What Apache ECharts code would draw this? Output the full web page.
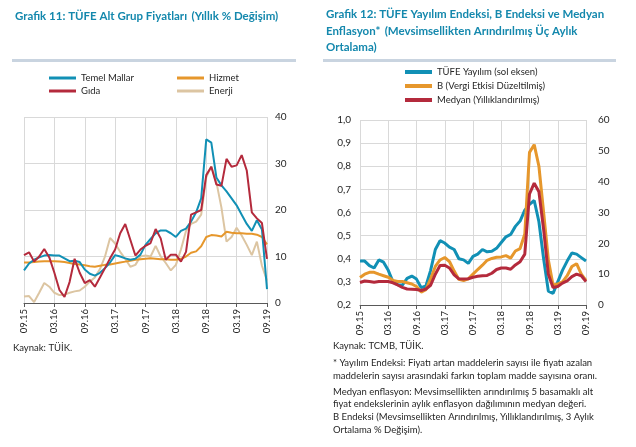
<!DOCTYPE html>
<html>
<head>
<meta charset="utf-8">
<script src="https://cdn.jsdelivr.net/npm/echarts@6/dist/echarts.min.js"></script>
<style>
  html, body { margin: 0; padding: 0; background: #fff; }
  #chart { width: 636px; height: 447px; }
</style>
</head>
<body>
<div id="chart"></div>
<script>
// aylar (09.15 - 09.19)
const months = [
  '09.15', '10.15', '11.15', '12.15',
  '01.16', '02.16', '03.16', '04.16', '05.16', '06.16', '07.16', '08.16', '09.16', '10.16', '11.16', '12.16',
  '01.17', '02.17', '03.17', '04.17', '05.17', '06.17', '07.17', '08.17', '09.17', '10.17', '11.17', '12.17',
  '01.18', '02.18', '03.18', '04.18', '05.18', '06.18', '07.18', '08.18', '09.18', '10.18', '11.18', '12.18',
  '01.19', '02.19', '03.19', '04.19', '05.19', '06.19', '07.19', '08.19', '09.19'
]

// Grafik 11 - yıllık % değişim
const temelMallar = [7.0, 8.5, 9.3, 9.8, 10.2, 10.3, 10.2, 10.2, 9.6, 9.0, 9.1, 8.8, 7.2, 6.3, 5.9, 6.5, 7.5, 8.7, 10.3, 10.0,
  9.6, 9.3, 9.5, 10.4, 12.5, 13.8, 15.0, 15.6, 15.6, 15.0, 14.2, 15.5, 16.0, 17.5, 19.5, 22.5, 35.2, 34.5, 27.0, 25.3,
  24.0, 22.5, 21.0, 19.0, 17.0, 15.5, 17.8, 15.8, 3.0]
const hizmet = [8.7, 8.7, 8.8, 8.9, 9.0, 9.0, 9.0, 8.9, 8.8, 8.6, 8.4, 8.3, 8.1, 7.9, 7.8, 8.0, 8.2, 8.3, 8.5, 8.7,
  8.9, 9.1, 9.3, 9.4, 9.5, 9.6, 9.5, 9.4, 9.4, 9.3, 9.3, 9.5, 10.0, 10.8, 11.1, 12.2, 14.2, 14.6, 14.5, 14.3,
  15.3, 15.1, 15.0, 15.0, 14.9, 14.9, 14.7, 14.2, 12.6]
const gida = [10.3, 10.9, 8.9, 10.0, 11.6, 9.8, 6.5, 2.8, 1.3, 4.5, 9.5, 6.5, 4.3, 4.9, 3.5, 5.5, 7.5, 9.6, 11.5, 15.0,
  17.0, 13.6, 10.2, 11.5, 12.3, 12.9, 15.9, 13.9, 9.3, 10.4, 10.4, 8.9, 11.0, 19.0, 19.5, 20.0, 27.5, 29.3, 25.5, 25.2,
  31.0, 29.3, 29.6, 31.8, 28.5, 19.5, 18.2, 17.2, 9.5]
const enerji = [1.4, 1.5, 0.2, 2.2, 4.3, 3.5, 2.2, 1.7, 1.8, 2.2, 2.5, 2.7, 3.5, 4.6, 5.5, 7.3, 10.0, 14.0, 12.8, 11.0,
  9.5, 7.8, 8.2, 10.0, 10.2, 10.0, 12.3, 10.0, 8.6, 7.0, 8.2, 11.5, 15.5, 17.0, 17.5, 19.0, 27.0, 29.4, 26.0, 20.5,
  13.2, 14.2, 16.2, 14.5, 12.5, 10.3, 13.2, 8.0, 4.8]

// Grafik 12 - yayılım (sol eksen), B ve medyan (sağ eksen)
const yayilim = [0.39, 0.39, 0.37, 0.36, 0.395, 0.385, 0.35, 0.30, 0.288, 0.286, 0.315, 0.325, 0.312, 0.275, 0.282, 0.35,
  0.44, 0.478, 0.468, 0.45, 0.44, 0.40, 0.395, 0.38, 0.41, 0.42, 0.44, 0.43, 0.432, 0.445, 0.47, 0.495, 0.505, 0.54,
  0.563, 0.61, 0.635, 0.652, 0.56, 0.40, 0.26, 0.25, 0.30, 0.35, 0.39, 0.425, 0.42, 0.405, 0.39]
const bEndeksi = [8.9, 10.0, 10.6, 10.6, 10.0, 9.5, 9.0, 8.0, 7.6, 7.6, 7.2, 6.8, 6.0, 4.2, 5.0, 8.5, 12.5, 14.6, 15.4, 14.1,
  11.0, 8.3, 7.9, 8.5, 10.0, 11.5, 12.9, 14.5, 15.1, 15.5, 15.6, 16.0, 15.2, 17.5, 18.3, 23.0, 49.5, 52.0, 45.0, 30.0,
  14.7, 6.5, 6.8, 7.5, 9.5, 12.5, 13.4, 10.0, 8.0]
const medyan = [7.3, 7.8, 7.6, 7.4, 7.6, 7.6, 7.6, 7.2, 6.5, 5.7, 5.2, 5.1, 5.0, 4.7, 5.2, 6.4, 10.0, 12.8, 12.9, 12.0,
  9.8, 8.5, 8.4, 8.5, 9.0, 9.3, 9.5, 9.6, 10.3, 11.5, 12.0, 12.0, 11.6, 13.0, 14.0, 16.5, 36.0, 39.5, 36.7, 24.5,
  10.0, 5.7, 6.0, 7.1, 7.8, 9.2, 10.0, 9.5, 7.6]

const footnotes = [
  'Kaynak: TCMB, TÜİK.',
  '* Yayılım Endeksi: Fiyatı artan maddelerin sayısı ile fiyatı azalan',
  'maddelerin sayısı arasındaki farkın toplam madde sayısına oranı.',
  'Medyan enflasyon: Mevsimsellikten arındırılmış 5 basamaklı alt',
  'fiyat endekslerinin aylık enflasyon dağılımının medyan değeri.',
  'B Endeksi (Mevsimsellikten Arındırılmış, Yıllıklandırılmış, 3 Aylık',
  'Ortalama % Değişim).'
]
const footY = [346, 363, 376, 392, 404, 417, 430]

const FONT = 'Lato'
const TEAL = '#1488ad'
const C_BLUE = '#1190b5'
const C_ORANGE = '#e6972c'
const C_RED = '#b42a3c'
const C_TAN = '#dcc5a2'
const GRID_C = '#d9d9d9'
const TXT = '#262626'

const chart = echarts.init(document.getElementById('chart'))

const xAxisBase = (gridIndex) => ({
  type: 'category',
  gridIndex,
  data: months,
  boundaryGap: false,
  axisLine: { lineStyle: { color: '#595959', width: 1 } },
  axisTick: { show: true, interval: 5, length: 4, lineStyle: { color: '#595959' } },
  axisLabel: { interval: 5, rotate: 90, fontSize: 9.5, color: TXT, fontFamily: FONT, margin: 6 },
  splitLine: { show: true, interval: 5, lineStyle: { color: GRID_C, width: 1 } },
})

const lineSeries = (name, data, color, width, xi, yi) => ({
  name,
  type: 'line',
  data,
  xAxisIndex: xi,
  yAxisIndex: yi,
  symbol: 'none',
  lineStyle: { color, width },
  itemStyle: { color },
})

const legendBase = (names, left, top, extra) => Object.assign({
  data: names,
  left,
  top,
  padding: 0,
  icon: 'rect',
  itemWidth: 27,
  itemHeight: 3,
  textStyle: { fontSize: 9.5, color: TXT, fontFamily: FONT },
  selectedMode: false,
}, extra || {})

const option = {
  animation: false,
  textStyle: { fontFamily: FONT },
  title: [
    {
      left: 15,
      top: 7,
      padding: 0,
      text: '{b|Grafik 11: TÜFE Alt Grup Fiyatları} {n|(Yıllık % Değişim)}',
      textStyle: {
        rich: {
          b: { fontFamily: FONT, fontSize: 11.5, fontWeight: 'bold', color: TEAL, lineHeight: 15 },
          n: { fontFamily: FONT, fontSize: 11.5, color: TEAL, lineHeight: 15 },
        },
      },
    },
    {
      left: 326,
      top: 7,
      padding: 0,
      text: '{b|Grafik 12: TÜFE Yayılım Endeksi, B Endeksi ve Medyan}\n{b|Enflasyon*} {n|(Mevsimsellikten Arındırılmış Üç Aylık}\n{n|Ortalama)}',
      textStyle: {
        rich: {
          b: { fontFamily: FONT, fontSize: 11.5, fontWeight: 'bold', color: TEAL, lineHeight: 15 },
          n: { fontFamily: FONT, fontSize: 11.5, color: TEAL, lineHeight: 15 },
        },
      },
    },
  ],
  legend: [
    legendBase(['Temel Mallar'], 49, 73),
    legendBase(['Hizmet'], 177, 73),
    legendBase(['Gıda'], 49, 86),
    legendBase(['Enerji'], 177, 86),
    legendBase(['TÜFE Yayılım (sol eksen)', 'B (Vergi Etkisi Düzeltilmiş)', 'Medyan (Yıllıklandırılmış)'], 405, 67,
      { orient: 'vertical', itemGap: 4, itemHeight: 4 }),
  ],
  grid: [
    { left: 24, right: 636 - 267, top: 117, bottom: 447 - 303 },
    { left: 360, right: 636 - 586, top: 120, bottom: 447 - 305 },
  ],
  xAxis: [xAxisBase(0), xAxisBase(1)],
  yAxis: [
    {
      type: 'value', gridIndex: 0, position: 'right', min: 0, max: 40, interval: 10,
      axisLine: { show: false }, axisTick: { show: false },
      axisLabel: { fontSize: 10, color: TXT, fontFamily: FONT, margin: 8 },
      splitLine: { lineStyle: { color: GRID_C, width: 1 } },
    },
    {
      type: 'value', gridIndex: 1, position: 'left', min: 0.2, max: 1.0, interval: 0.1,
      axisLine: { show: false }, axisTick: { show: false },
      axisLabel: {
        fontSize: 10, color: TXT, fontFamily: FONT, margin: 9,
        formatter: (v) => v.toFixed(1).replace('.', ','),
      },
      splitLine: { lineStyle: { color: GRID_C, width: 1 } },
    },
    {
      type: 'value', gridIndex: 1, position: 'right', min: 0, max: 60, interval: 10,
      axisLine: { show: false }, axisTick: { show: false },
      axisLabel: { fontSize: 10, color: TXT, fontFamily: FONT, margin: 12 },
      splitLine: { show: false },
    },
  ],
  series: [
    lineSeries('Enerji', enerji, C_TAN, 2, 0, 0),
    lineSeries('Hizmet', hizmet, C_ORANGE, 2, 0, 0),
    lineSeries('Temel Mallar', temelMallar, C_BLUE, 2, 0, 0),
    lineSeries('Gıda', gida, C_RED, 2, 0, 0),
    lineSeries('TÜFE Yayılım (sol eksen)', yayilim, C_BLUE, 3, 1, 1),
    lineSeries('B (Vergi Etkisi Düzeltilmiş)', bEndeksi, C_ORANGE, 3, 1, 2),
    lineSeries('Medyan (Yıllıklandırılmış)', medyan, C_RED, 3, 1, 2),
  ],
  graphic: [
    { type: 'rect', shape: { x: 12, y: 59, width: 284, height: 3 }, style: { fill: '#c9d4e0' } },
    { type: 'rect', shape: { x: 323, y: 59, width: 293, height: 3 }, style: { fill: '#c9d4e0' } },
    {
      type: 'text', x: 13, y: 348,
      style: { text: 'Kaynak: TÜİK.', font: '9.5px ' + FONT, fill: TXT, verticalAlign: 'middle' },
    },
  ].concat(footnotes.map((t, i) => ({
    type: 'text', x: 333, y: footY[i],
    style: { text: t, font: '9.5px ' + FONT, fill: TXT, verticalAlign: 'middle' },
  }))),
}

chart.setOption(option)
</script>
</body>
</html>
